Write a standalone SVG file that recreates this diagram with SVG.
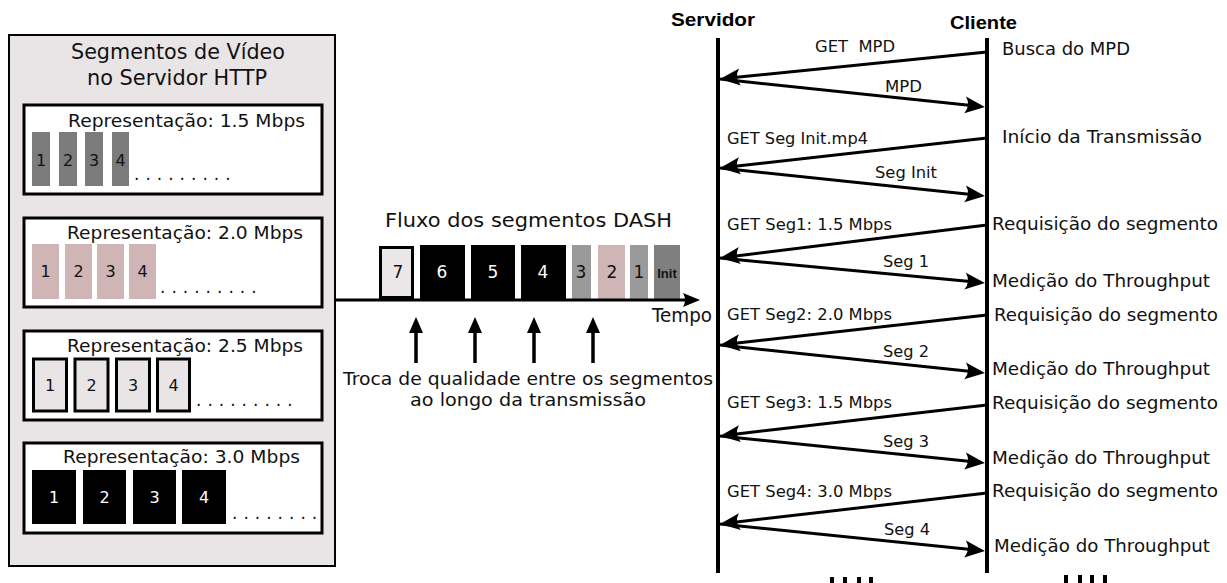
<svg xmlns="http://www.w3.org/2000/svg" width="1227" height="583" viewBox="0 0 1227 583">
  <defs>
    <style>
      text { font-family: "DejaVu Sans", "Liberation Sans", sans-serif; fill: #111; }
      .title { font-size: 21px; }
      .rep { font-size: 18px; }
      .num { font-size: 16px; text-anchor: middle; }
      .snum { font-size: 17px; text-anchor: middle; }
      .white { fill: #fff; }
      .dots { font-size: 17px; letter-spacing: 6px; }
      .head { font-family: "Liberation Sans", Arial, sans-serif; font-weight: bold; font-size: 18px; fill: #000; }
      .msg { font-size: 15.5px; }
      .note { font-size: 18.5px; }
      .mid { font-size: 19px; }
      .cap { font-size: 17.5px; }
      .repbox { fill: #fff; stroke: #000; stroke-width: 3; }
      .seg15 { fill: #7b7b7b; }
      .seg20 { fill: #cfb5b5; }
      .seg25 { fill: #e9e5e6; stroke: #000; stroke-width: 3; }
      .seg30 { fill: #000; }
      .life { stroke: #000; stroke-width: 4; fill: none; }
      .msgline { stroke: #000; stroke-width: 3; fill: none; marker-end: url(#ah); }
    </style>
    <marker id="ah" markerUnits="userSpaceOnUse" viewBox="-22 -10 24 20" markerWidth="24" markerHeight="20" refX="-4" refY="0" orient="auto">
      <path d="M0,0 L-20,-8.5 Q-14,0 -20,8.5 Z" fill="#000"/>
    </marker>
  </defs>

  <!-- video segment repository -->
  <g id="server-storage">
    <rect x="9" y="35" width="326" height="531" fill="#e9e5e6" stroke="#000" stroke-width="2"/>
    <text class="title" x="71" y="59" textLength="214" lengthAdjust="spacingAndGlyphs">Segmentos de Vídeo</text>
    <text class="title" x="87" y="85" textLength="180" lengthAdjust="spacingAndGlyphs">no Servidor HTTP</text>
  </g>

  <g id="rep-1-5">
    <rect class="repbox" x="24" y="105" width="298" height="89"/>
    <text class="rep" x="68" y="127" textLength="237" lengthAdjust="spacingAndGlyphs">Representação: 1.5 Mbps</text>
    <rect class="seg15" x="32" y="132" width="18" height="54"/>
    <rect class="seg15" x="59" y="132" width="18" height="54"/>
    <rect class="seg15" x="85" y="132" width="18" height="54"/>
    <rect class="seg15" x="112" y="132" width="17" height="54"/>
    <text class="num" x="41" y="166">1</text>
    <text class="num" x="68" y="166">2</text>
    <text class="num" x="94" y="166">3</text>
    <text class="num" x="120.5" y="166">4</text>
    <text class="dots" x="134" y="180">.........</text>
  </g>

  <g id="rep-2-0">
    <rect class="repbox" x="24" y="218" width="298" height="89"/>
    <text class="rep" x="67" y="239" textLength="236" lengthAdjust="spacingAndGlyphs">Representação: 2.0 Mbps</text>
    <rect class="seg20" x="32" y="244" width="27" height="55"/>
    <rect class="seg20" x="65" y="244" width="27" height="55"/>
    <rect class="seg20" x="97" y="244" width="27" height="55"/>
    <rect class="seg20" x="129" y="244" width="27" height="55"/>
    <text class="num" x="45.5" y="277">1</text>
    <text class="num" x="78.5" y="277">2</text>
    <text class="num" x="110.5" y="277">3</text>
    <text class="num" x="142.5" y="277">4</text>
    <text class="dots" x="160" y="293">.........</text>
  </g>

  <g id="rep-2-5">
    <rect class="repbox" x="24" y="331" width="298" height="89"/>
    <text class="rep" x="67" y="352" textLength="236" lengthAdjust="spacingAndGlyphs">Representação: 2.5 Mbps</text>
    <rect class="seg25" x="33.5" y="359" width="33" height="52"/>
    <rect class="seg25" x="75" y="359" width="33" height="52"/>
    <rect class="seg25" x="116.5" y="359" width="33" height="52"/>
    <rect class="seg25" x="157.5" y="359" width="32" height="52"/>
    <text class="num" x="50" y="391">1</text>
    <text class="num" x="91.5" y="391">2</text>
    <text class="num" x="133" y="391">3</text>
    <text class="num" x="173.5" y="391">4</text>
    <text class="dots" x="196" y="406">.........</text>
  </g>

  <g id="rep-3-0">
    <rect class="repbox" x="24" y="443" width="298" height="90"/>
    <text class="rep" x="63" y="463" textLength="237" lengthAdjust="spacingAndGlyphs">Representação: 3.0 Mbps</text>
    <rect class="seg30" x="32" y="470" width="44" height="54"/>
    <rect class="seg30" x="83" y="470" width="43" height="54"/>
    <rect class="seg30" x="133" y="470" width="43" height="54"/>
    <rect class="seg30" x="182" y="470" width="44" height="54"/>
    <text class="num white" x="54" y="503">1</text>
    <text class="num white" x="104.5" y="503">2</text>
    <text class="num white" x="154.5" y="503">3</text>
    <text class="num white" x="204" y="503">4</text>
    <text class="dots" x="232" y="519">........</text>
  </g>

  <!-- DASH segment stream on the time axis -->
  <g id="stream">
    <text class="mid" x="385" y="227" textLength="287" lengthAdjust="spacingAndGlyphs">Fluxo dos segmentos DASH</text>
    <rect x="380.5" y="247.5" width="32" height="50" fill="#ebe7e8" stroke="#000" stroke-width="3"/>
    <rect x="420" y="245" width="45" height="54" fill="#000"/>
    <rect x="471" y="245" width="44" height="54" fill="#000"/>
    <rect x="521" y="245" width="45" height="54" fill="#000"/>
    <rect x="572" y="245" width="19" height="54" fill="#9a9a9a"/>
    <rect x="598" y="245" width="27" height="54" fill="#cfb5b5"/>
    <rect x="630" y="245" width="18" height="54" fill="#9a9a9a"/>
    <rect x="654" y="245" width="26" height="54" fill="#7f7f7f"/>
    <text class="snum" x="398" y="278">7</text>
    <text class="snum white" x="442" y="278">6</text>
    <text class="snum white" x="493" y="278">5</text>
    <text class="snum white" x="543" y="278">4</text>
    <text class="snum" x="581" y="278">3</text>
    <text class="snum" x="612" y="278">2</text>
    <text class="snum" x="639" y="278">1</text>
    <text x="667" y="278" text-anchor="middle" style="font-family:'Liberation Sans',Arial,sans-serif;font-weight:bold;font-size:13px">Init</text>
    <text class="mid" x="652" y="322" textLength="60" lengthAdjust="spacingAndGlyphs">Tempo</text>
  </g>

  <g id="quality-switch">
    <text class="cap" x="343" y="385" textLength="370" lengthAdjust="spacingAndGlyphs">Troca de qualidade entre os segmentos</text>
    <text class="cap" x="528" y="406" text-anchor="middle" textLength="236" lengthAdjust="spacingAndGlyphs">ao longo da transmissão</text>
  </g>

  <!-- sequence participants -->
  <g id="servidor">
    <text class="head" x="671" y="26" textLength="84" lengthAdjust="spacingAndGlyphs">Servidor</text>
    <line class="life" x1="718" y1="38" x2="718" y2="573"/>
  </g>
  <g id="cliente">
    <text class="head" x="950" y="29" textLength="67" lengthAdjust="spacingAndGlyphs">Cliente</text>
    <line class="life" x1="987" y1="38" x2="987" y2="573"/>
  </g>

  <!-- connectors -->
  <g id="connectors">
    <line x1="335" y1="300" x2="688" y2="300" stroke="#000" stroke-width="3"/>
    <path d="M700,300 L683,293 Q687,300 683,307 Z" fill="#000"/>

    <g fill="#000" stroke="#000" stroke-width="3.5">
      <line x1="416" y1="330" x2="416" y2="363"/>
      <line x1="475" y1="330" x2="475" y2="363"/>
      <line x1="534" y1="330" x2="534" y2="363"/>
      <line x1="593" y1="330" x2="593" y2="363"/>
    </g>
    <g fill="#000">
      <path d="M416,317 L423,333 L409,333 Z"/>
      <path d="M475,317 L482,333 L468,333 Z"/>
      <path d="M534,317 L541,333 L527,333 Z"/>
      <path d="M593,317 L600,333 L586,333 Z"/>
    </g>

    <line class="msgline" x1="987" y1="52" x2="724" y2="78.6"/>
    <line class="msgline" x1="720" y1="79" x2="981" y2="106.6"/>
    <line class="msgline" x1="987" y1="138" x2="724" y2="167.6"/>
    <line class="msgline" x1="720" y1="168" x2="981" y2="195.6"/>
    <line class="msgline" x1="987" y1="225" x2="724" y2="257.5"/>
    <line class="msgline" x1="720" y1="258" x2="981" y2="282.6"/>
    <line class="msgline" x1="987" y1="315" x2="724" y2="344.6"/>
    <line class="msgline" x1="720" y1="345" x2="981" y2="372.6"/>
    <line class="msgline" x1="987" y1="405" x2="724" y2="435.5"/>
    <line class="msgline" x1="720" y1="436" x2="981" y2="462.6"/>
    <line class="msgline" x1="987" y1="493" x2="724" y2="523.5"/>
    <line class="msgline" x1="720" y1="524" x2="981" y2="550.6"/>
  </g>

  <!-- message labels -->
  <g id="messages">
    <text class="msg" x="815" y="52" textLength="80" lengthAdjust="spacingAndGlyphs" xml:space="preserve">GET  MPD</text>
    <text class="msg" x="885" y="92" textLength="37" lengthAdjust="spacingAndGlyphs">MPD</text>
    <text class="msg" x="727" y="144" textLength="141" lengthAdjust="spacingAndGlyphs">GET Seg Init.mp4</text>
    <text class="msg" x="875" y="178" textLength="62" lengthAdjust="spacingAndGlyphs">Seg Init</text>
    <text class="msg" x="727" y="230" textLength="165" lengthAdjust="spacingAndGlyphs">GET Seg1: 1.5 Mbps</text>
    <text class="msg" x="883" y="267" textLength="46" lengthAdjust="spacingAndGlyphs">Seg 1</text>
    <text class="msg" x="727" y="320" textLength="165" lengthAdjust="spacingAndGlyphs">GET Seg2: 2.0 Mbps</text>
    <text class="msg" x="883" y="357" textLength="46" lengthAdjust="spacingAndGlyphs">Seg 2</text>
    <text class="msg" x="727" y="408" textLength="165" lengthAdjust="spacingAndGlyphs">GET Seg3: 1.5 Mbps</text>
    <text class="msg" x="883" y="447" textLength="46" lengthAdjust="spacingAndGlyphs">Seg 3</text>
    <text class="msg" x="727" y="497" textLength="165" lengthAdjust="spacingAndGlyphs">GET Seg4: 3.0 Mbps</text>
    <text class="msg" x="884" y="535" textLength="46" lengthAdjust="spacingAndGlyphs">Seg 4</text>
  </g>

  <!-- client-side notes -->
  <g id="client-notes">
    <text class="note" x="1002" y="55" textLength="128" lengthAdjust="spacingAndGlyphs">Busca do MPD</text>
    <text class="note" x="1002" y="143" textLength="200" lengthAdjust="spacingAndGlyphs">Início da Transmissão</text>
    <text class="note" x="992" y="230" textLength="226" lengthAdjust="spacingAndGlyphs">Requisição do segmento</text>
    <text class="note" x="992" y="287" textLength="218" lengthAdjust="spacingAndGlyphs">Medição do Throughput</text>
    <text class="note" x="994" y="321" textLength="224" lengthAdjust="spacingAndGlyphs">Requisição do segmento</text>
    <text class="note" x="992" y="375" textLength="218" lengthAdjust="spacingAndGlyphs">Medição do Throughput</text>
    <text class="note" x="992" y="409" textLength="226" lengthAdjust="spacingAndGlyphs">Requisição do segmento</text>
    <text class="note" x="992" y="464" textLength="218" lengthAdjust="spacingAndGlyphs">Medição do Throughput</text>
    <text class="note" x="992" y="497" textLength="226" lengthAdjust="spacingAndGlyphs">Requisição do segmento</text>
    <text class="note" x="994" y="552" textLength="216" lengthAdjust="spacingAndGlyphs">Medição do Throughput</text>
  </g>

  <!-- continuation marks below the lifelines -->
  <g id="continuation" fill="#000">
    <rect x="830" y="577" width="4" height="6"/>
    <rect x="843" y="577" width="4" height="6"/>
    <rect x="857" y="577" width="4" height="6"/>
    <rect x="869" y="577" width="4" height="6"/>
    <rect x="1064" y="575" width="4" height="8"/>
    <rect x="1078" y="575" width="4" height="8"/>
    <rect x="1090" y="575" width="4" height="8"/>
    <rect x="1103" y="575" width="4" height="8"/>
  </g>
</svg>
